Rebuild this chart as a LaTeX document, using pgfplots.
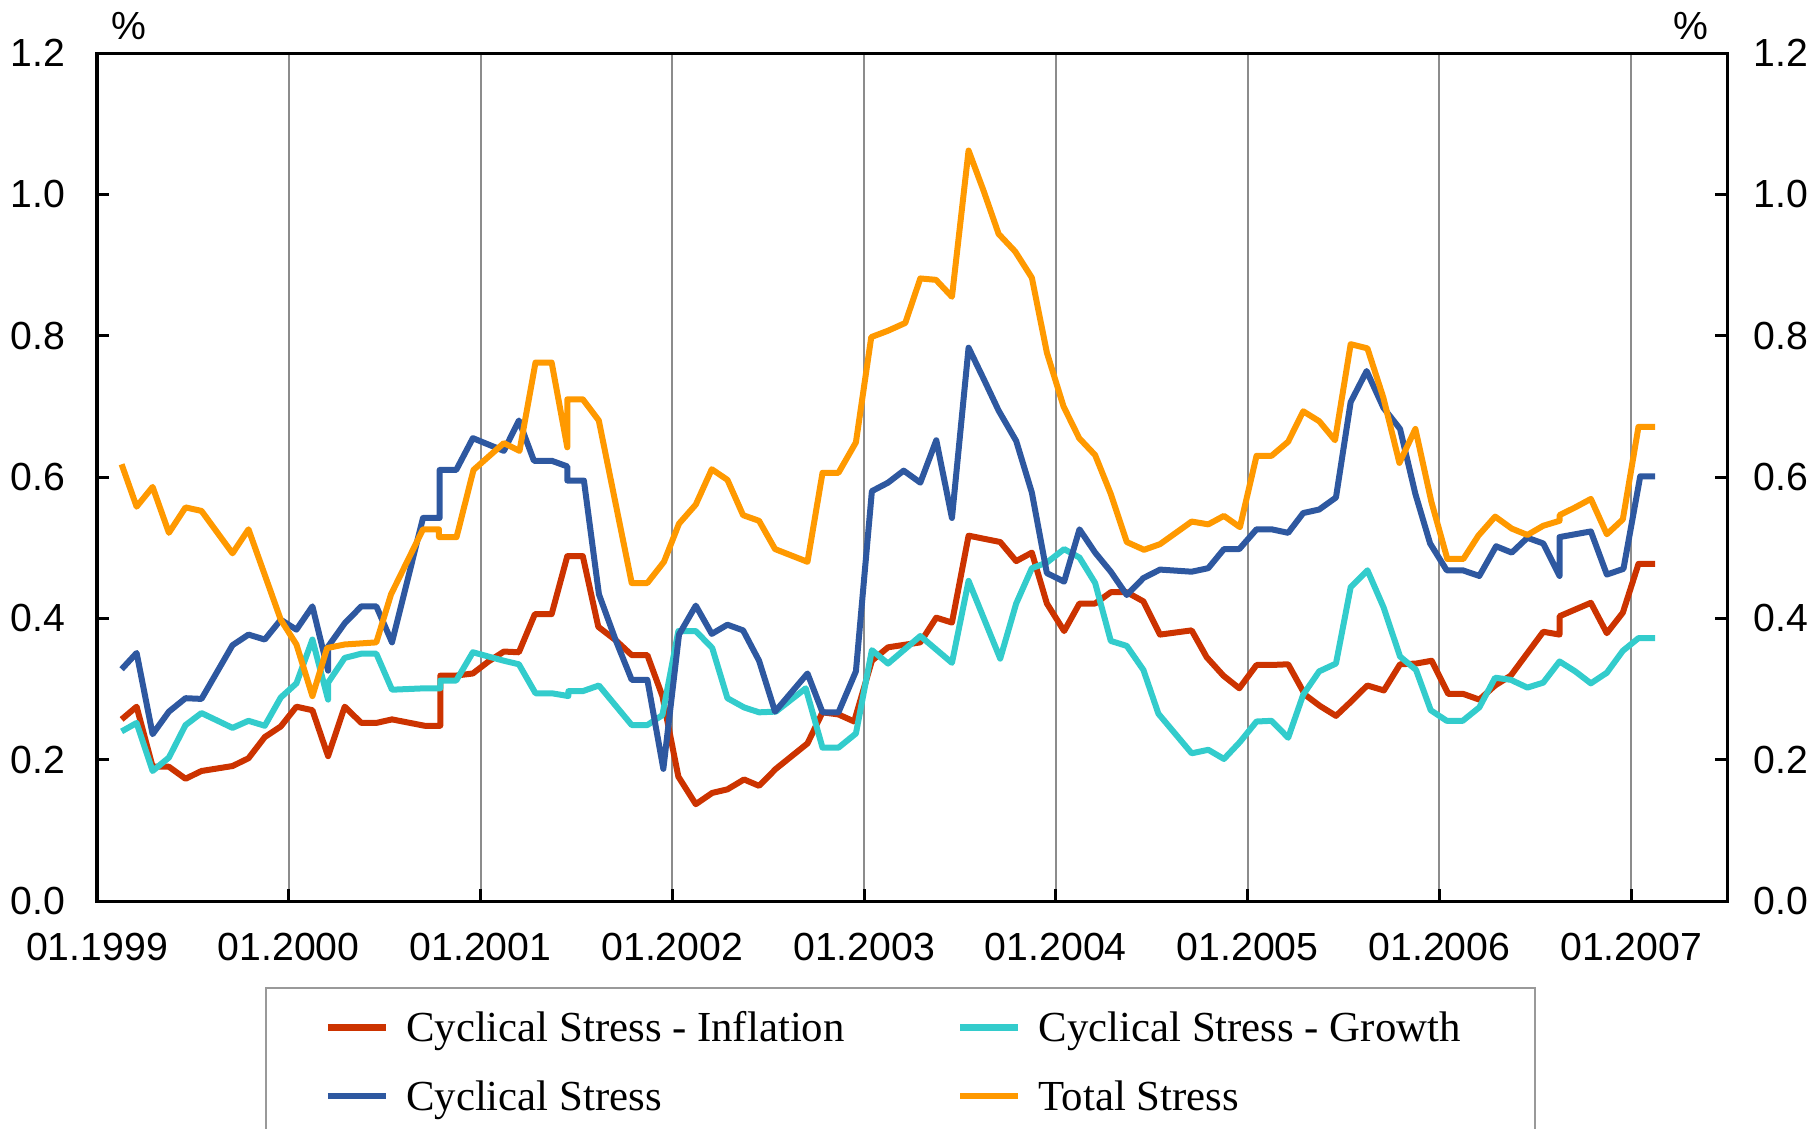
\documentclass[border=0pt]{standalone}
\usepackage{fontspec}
\setmainfont{Liberation Serif}
\newfontfamily\arialfont{Liberation Sans}
\usepackage{pgfplots}
\pgfplotsset{compat=1.18}
\definecolor{cInf}{RGB}{204,51,0}
\definecolor{cGro}{RGB}{51,204,204}
\definecolor{cCyc}{RGB}{46,88,160}
\definecolor{cTot}{RGB}{255,153,0}
\pgfplotsset{
  commonax/.style={
    scale only axis, width=407.5pt, height=212pt,
    at={(24.25pt,56.75pt)}, anchor=south west,
    xmin=0, xmax=102, ymin=0, ymax=1.2,
    ytick={0,0.2,0.4,0.6,0.8,1.0,1.2},
    axis line style={line width=0.75pt, black},
    major tick style={line width=0.75pt, black},
    major tick length=3pt,
    tick label style={font=\arialfont\fontsize{9.8}{11}\selectfont},
    /pgf/number format/assume math mode=true,
    y tick label style={/pgf/number format/fixed, /pgf/number format/fixed zerofill, /pgf/number format/precision=1},
  }
}
\begin{document}
\begin{tikzpicture}
\begin{axis}[commonax,
  clip=false,
  xtick={0,12,24,36,48,60,72,84,96},
  xticklabels={01.1999,01.2000,01.2001,01.2002,01.2003,01.2004,01.2005,01.2006,01.2007},
  xticklabel style={yshift=-4.5pt},
  xtick pos=bottom,
  ytick pos=left,
  yticklabel style={xshift=-4.4pt},
  xmajorgrids, major grid style={line width=0.5pt, gray!90},
  legend columns=2,
  legend cell align=left,
  legend image code/.code={\draw[#1,line cap=butt,line width=1.7pt] (0pt,0pt) -- (14.5pt,0pt);},
  legend style={at={(0.1031,-0.1014)}, anchor=north west,
    draw=gray!80, line width=0.6pt, fill=white,
    inner xsep=14.55pt, inner ysep=1.1pt,
    font=\fontsize{10.7}{12}\selectfont,
    nodes={inner sep=0pt, text height=12.125pt, text depth=5.125pt},
    column sep=0pt, row sep=0pt,
    /tikz/every odd column/.append style={column sep=4.2pt}},
  every axis plot/.append style={line width=1.5pt, line join=round},
]
\addplot[cInf] coordinates {
(1.54,0.257) (2.48,0.275) (3.48,0.19) (4.5,0.19) (5.54,0.173) (6.54,0.184) (8.48,0.191) (9.48,0.202) (10.5,0.232) (11.5,0.247) (12.48,0.275) (13.48,0.270) (14.46,0.205) (15.5,0.275) (16.54,0.252) (17.48,0.252) (18.46,0.257) (20.5,0.248) (21.48,0.248) (21.48,0.319) (22.48,0.319) (23.52,0.322) (24.5,0.339) (25.46,0.353) (26.4,0.352) (27.4,0.406) (28.45,0.406) (29.43,0.488) (30.4,0.488) (31.37,0.388) (32.46,0.369) (33.46,0.348) (34.44,0.348) (35.38,0.290) (36.38,0.176) (37.47,0.137) (38.5,0.153) (39.45,0.158) (40.49,0.172) (41.43,0.163) (42.48,0.187) (44.46,0.223) (45.4,0.267) (46.4,0.264) (47.38,0.254) (48.49,0.340) (49.5,0.359) (51.52,0.366) (52.52,0.401) (53.5,0.394) (54.54,0.517) (56.52,0.508) (57.52,0.481) (58.5,0.493) (59.44,0.421) (60.52,0.382) (61.48,0.421) (62.46,0.421) (63.44,0.437) (64.44,0.437) (65.48,0.424) (66.52,0.377) (68.5,0.383) (69.44,0.345) (70.48,0.319) (71.48,0.301) (72.56,0.334) (73.5,0.334) (74.54,0.335) (75.59,0.292) (76.53,0.276) (77.53,0.262) (78.51,0.283) (79.49,0.305) (80.53,0.298) (81.54,0.335) (82.54,0.336) (83.52,0.340) (84.56,0.293) (85.5,0.293) (86.5,0.285) (87.49,0.305) (88.47,0.319) (90.5,0.381) (91.52,0.377) (91.52,0.403) (93.48,0.422) (94.48,0.379) (95.48,0.408) (96.46,0.477) (97.5,0.477)
};
\addlegendentry{\makebox[137.75pt][l]{Cyclical Stress - Inflation}}
\addplot[cGro] coordinates {
(1.54,0.24) (2.48,0.252) (3.48,0.184) (4.5,0.203) (5.54,0.249) (6.54,0.266) (8.48,0.245) (9.48,0.255) (10.5,0.248) (11.5,0.288) (12.48,0.308) (13.48,0.370) (14.46,0.285) (14.46,0.309) (15.5,0.344) (16.54,0.35) (17.48,0.35) (18.46,0.299) (20.5,0.301) (21.48,0.301) (21.48,0.312) (22.48,0.312) (23.52,0.352) (25.46,0.340) (26.4,0.335) (27.44,0.294) (28.45,0.294) (29.5,0.290) (29.5,0.297) (30.4,0.297) (31.41,0.305) (33.46,0.249) (34.44,0.249) (35.38,0.263) (36.38,0.382) (37.47,0.382) (38.5,0.358) (39.45,0.287) (40.49,0.274) (41.43,0.267) (42.48,0.268) (44.35,0.301) (45.4,0.217) (46.4,0.217) (47.49,0.237) (48.49,0.355) (49.5,0.336) (51.52,0.375) (53.5,0.337) (54.54,0.453) (56.52,0.343) (57.52,0.421) (58.5,0.471) (59.44,0.479) (60.52,0.498) (61.48,0.486) (62.46,0.450) (63.44,0.368) (64.44,0.361) (65.48,0.327) (66.42,0.265) (68.5,0.209) (69.54,0.214) (70.52,0.201) (71.52,0.225) (72.56,0.254) (73.5,0.255) (74.54,0.231) (75.48,0.292) (76.48,0.325) (77.53,0.336) (78.45,0.444) (79.5,0.468) (80.5,0.416) (81.54,0.346) (82.54,0.327) (83.46,0.270) (84.46,0.255) (85.46,0.255) (86.5,0.274) (87.49,0.316) (88.47,0.313) (89.51,0.302) (90.5,0.309) (91.52,0.339) (92.5,0.325) (93.48,0.308) (94.48,0.323) (95.48,0.354) (96.46,0.372) (97.5,0.372)
};
\addlegendentry{\makebox[109.6pt][l]{Cyclical Stress - Growth}}
\addplot[cCyc] coordinates {
(1.54,0.328) (2.48,0.351) (3.48,0.236) (4.5,0.268) (5.54,0.287) (6.54,0.286) (8.48,0.362) (9.48,0.377) (10.5,0.370) (11.5,0.398) (12.48,0.384) (13.48,0.417) (14.46,0.326) (14.46,0.36) (15.5,0.393) (16.54,0.417) (17.48,0.417) (18.46,0.366) (20.4,0.542) (21.44,0.542) (21.44,0.61) (22.48,0.61) (23.52,0.655) (25.46,0.637) (26.4,0.68) (27.34,0.623) (28.45,0.623) (29.43,0.615) (29.43,0.595) (30.47,0.595) (31.41,0.434) (32.46,0.369) (33.46,0.313) (34.44,0.313) (35.44,0.187) (36.42,0.377) (37.47,0.418) (38.47,0.378) (39.45,0.391) (40.43,0.383) (41.43,0.340) (42.43,0.268) (44.46,0.322) (45.4,0.267) (46.4,0.267) (47.49,0.325) (48.49,0.580) (49.5,0.592) (50.48,0.609) (51.52,0.592) (52.52,0.652) (53.5,0.542) (54.54,0.783) (55.48,0.739) (56.42,0.694) (57.52,0.651) (58.5,0.578) (59.44,0.464) (60.52,0.452) (61.48,0.526) (62.46,0.493) (63.44,0.466) (64.44,0.433) (65.48,0.457) (66.52,0.469) (68.5,0.466) (69.54,0.471) (70.52,0.498) (71.48,0.498) (72.56,0.526) (73.5,0.526) (74.54,0.521) (75.48,0.549) (76.48,0.554) (77.53,0.571) (78.45,0.706) (79.45,0.750) (80.5,0.698) (81.54,0.668) (82.5,0.576) (83.42,0.506) (84.46,0.468) (85.46,0.468) (86.5,0.460) (87.55,0.502) (88.53,0.493) (89.51,0.514) (90.5,0.506) (91.52,0.460) (91.52,0.515) (93.48,0.523) (94.48,0.462) (95.52,0.470) (96.57,0.601) (97.5,0.601)
};
\addlegendentry{Cyclical Stress}
\addplot[cTot] coordinates {
(1.54,0.618) (2.48,0.558) (3.48,0.586) (4.5,0.521) (5.54,0.557) (6.54,0.552) (8.48,0.492) (9.48,0.526) (11.5,0.398) (12.48,0.363) (13.48,0.29) (14.4,0.358) (15.5,0.363) (17.48,0.366) (18.4,0.434) (20.4,0.526) (21.4,0.526) (21.4,0.515) (22.5,0.515) (23.56,0.61) (25.46,0.648) (26.44,0.637) (27.44,0.762) (28.45,0.762) (29.43,0.642) (29.43,0.71) (30.4,0.71) (31.4,0.68) (33.46,0.45) (34.44,0.45) (35.48,0.48) (36.42,0.534) (37.47,0.561) (38.47,0.611) (39.45,0.596) (40.43,0.546) (41.43,0.538) (42.43,0.498) (44.46,0.48) (45.4,0.606) (46.4,0.606) (47.49,0.649) (48.45,0.798) (49.5,0.807) (50.58,0.818) (51.52,0.881) (52.5,0.879) (53.5,0.855) (54.54,1.062) (55.48,1.005) (56.42,0.944) (57.46,0.919) (58.5,0.882) (59.44,0.776) (60.48,0.700) (61.46,0.655) (62.46,0.631) (63.44,0.576) (64.44,0.508) (65.52,0.497) (66.52,0.505) (68.5,0.537) (69.54,0.533) (70.52,0.545) (71.52,0.529) (72.56,0.63) (73.5,0.63) (74.54,0.65) (75.48,0.693) (76.48,0.679) (77.47,0.652) (78.45,0.788) (79.5,0.782) (80.5,0.712) (81.5,0.62) (82.5,0.668) (83.5,0.565) (84.5,0.484) (85.5,0.484) (86.44,0.517) (87.49,0.544) (88.53,0.527) (89.51,0.518) (90.5,0.531) (91.52,0.538) (91.52,0.546) (92.5,0.557) (93.48,0.569) (94.48,0.519) (95.48,0.54) (96.46,0.671) (97.5,0.671)
};
\addlegendentry{Total Stress}
\node[font=\arialfont\fontsize{9.8}{11}\selectfont, anchor=south] at (rel axis cs:0.0196,1) [yshift=-0.1pt] {\%};
\node[font=\arialfont\fontsize{9.8}{11}\selectfont, anchor=south] at (rel axis cs:0.978,1) [yshift=-0.1pt] {\%};
\end{axis}
\begin{axis}[commonax,
  hide x axis,
  ytick pos=right,
  yticklabel pos=right,
  yticklabel style={xshift=3.2pt},
]
\addplot[draw=none] coordinates {(0,0)};
\end{axis}
\pgfresetboundingbox
\useasboundingbox (0,0) rectangle (455pt,282pt);
\end{tikzpicture}
\end{document}
